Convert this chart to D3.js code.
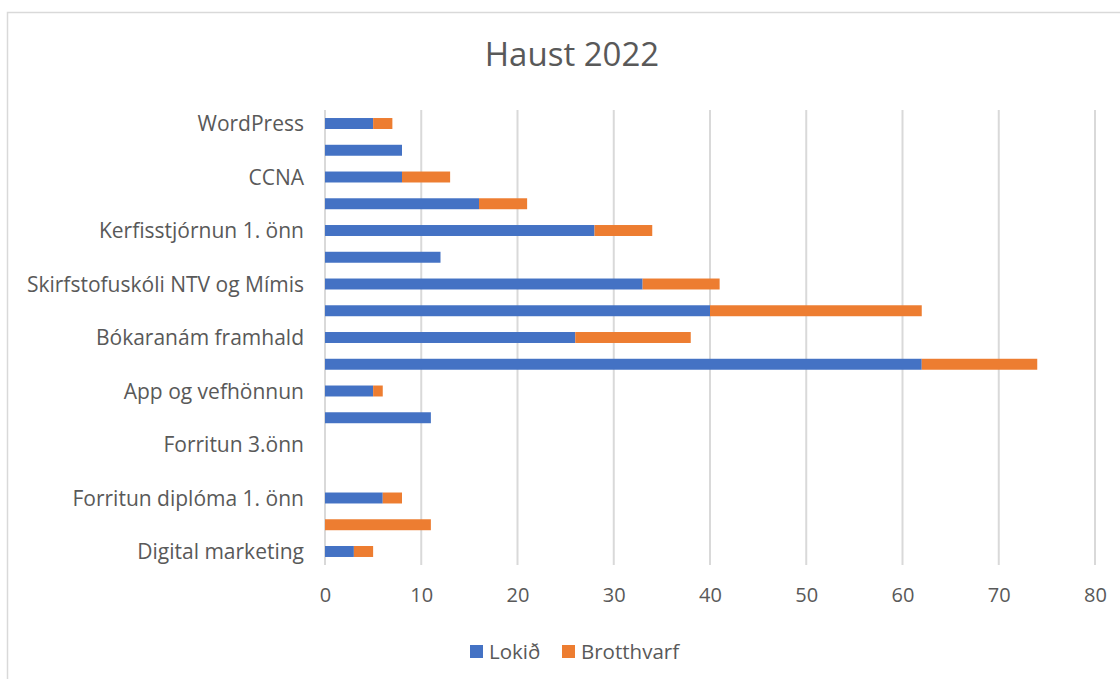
<!DOCTYPE html>
<html>
<head>
<meta charset="utf-8">
<script src="https://cdn.jsdelivr.net/npm/d3@7"></script>
<style>
  body { margin: 0; background: #fff; }
  svg text { font-family: "Open Sans", sans-serif; fill: #595959; }
</style>
</head>
<body>
<div id="chart"></div>
<script>
const width = 1120;
const height = 679;

// categories top to bottom; blank ones have no label shown in the original
const categories = [
  "WordPress", "", "CCNA", "", "Kerfisstjórnun 1. önn", "",
  "Skirfstofuskóli NTV og Mímis", "", "Bókaranám framhald", "",
  "App og vefhönnun", "", "Forritun 3.önn", "", "Forritun diplóma 1. önn", "",
  "Digital marketing"
];
const lokid       = [5, 8, 8, 16, 28, 12, 33, 40, 26, 62, 5, 11, 0, 0, 6, 0, 3];
const brotthvarf  = [2, 0, 5, 5, 6, 0, 8, 22, 12, 12, 1, 0, 0, 0, 2, 11, 2];
const seriesNames = ["Lokið", "Brotthvarf"];
const seriesColors = ["#4472C4", "#ED7D31"];
const xTicks = [0, 10, 20, 30, 40, 50, 60, 70, 80];

const svg = d3.select("#chart").append("svg")
    .attr("width", width)
    .attr("height", height);

// chart frame
svg.append("rect")
    .attr("x", 7.5).attr("y", 12.5)
    .attr("width", 1200).attr("height", 800)
    .attr("fill", "none")
    .attr("stroke", "#d9d9d9")
    .attr("stroke-width", 1.5);

const plot = { left: 325, right: 1095, top: 110, bottom: 565 };

const x = d3.scaleLinear()
    .domain([0, 80])
    .range([plot.left, plot.right]);

const y = d3.scaleBand()
    .domain(d3.range(categories.length))
    .range([plot.top, plot.bottom])
    .paddingInner(0.59)
    .paddingOuter(0.3);

// gridlines
svg.append("g")
    .selectAll("line")
    .data(xTicks)
    .join("line")
    .attr("x1", d => x(d)).attr("x2", d => x(d))
    .attr("y1", plot.top).attr("y2", plot.bottom)
    .attr("stroke", "#d9d9d9")
    .attr("stroke-width", 2);

const rows = categories.map((c, i) => ({ i, lokid: lokid[i], brotthvarf: brotthvarf[i] }));
const stack = d3.stack().keys(["lokid", "brotthvarf"])(rows);

svg.append("g")
    .selectAll("g")
    .data(stack)
    .join("g")
    .attr("fill", (d, k) => seriesColors[k])
    .selectAll("rect")
    .data(d => d)
    .join("rect")
    .attr("x", d => x(d[0]))
    .attr("width", d => x(d[1]) - x(d[0]))
    .attr("y", d => y(d.data.i))
    .attr("height", y.bandwidth());

// category axis
const yAxis = svg.append("g")
    .attr("transform", `translate(${plot.left},0)`)
    .call(d3.axisLeft(y).tickSize(0).tickPadding(21).tickFormat(i => categories[i]));
yAxis.select(".domain").remove();
yAxis.selectAll("text")
    .attr("dy", "0.38em")
    .style("font-size", "21px");

// value axis labels
const xAxis = svg.append("g")
    .attr("transform", `translate(0,${plot.bottom})`)
    .call(d3.axisBottom(x).tickValues(xTicks).tickSize(0).tickPadding(23));
xAxis.select(".domain").remove();
xAxis.selectAll("text")
    .style("font-size", "20px");

// title
svg.append("text")
    .attr("x", 572)
    .attr("y", 66)
    .attr("text-anchor", "middle")
    .style("font-size", "33px")
    .text("Haust 2022");

// legend
const legend = svg.append("g");
const legendX = [470, 562];
seriesNames.forEach((name, k) => {
    legend.append("rect")
        .attr("x", legendX[k]).attr("y", 645)
        .attr("width", 13).attr("height", 13)
        .attr("fill", seriesColors[k]);
    legend.append("text")
        .attr("x", legendX[k] + 19)
        .attr("y", 659)
        .style("font-size", "20.5px")
        .text(name);
});
</script>
</body>
</html>
